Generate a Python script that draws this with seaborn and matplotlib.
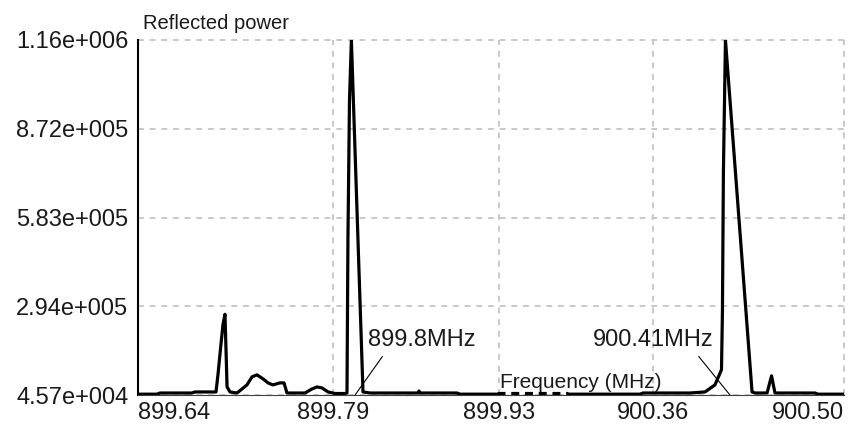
import numpy as np
import matplotlib
matplotlib.use("Agg")
import matplotlib.pyplot as plt
import seaborn as sns

# tick values (the axis is broken, ticks are not evenly spaced in MHz)
freq_ticks = [899.64, 899.79, 899.93, 900.36, 900.50]
freq_tick_labels = ["899.64", "899.79", "899.93", "900.36", "900.50"]
power_ticks = [45700, 294000, 583000, 872000, 1160000]
power_tick_labels = ["4.57e+004", "2.94e+005", "5.83e+005", "8.72e+005", "1.16e+006"]

# lower band sweep
band1_freq = [899.6400, 899.6546, 899.6569, 899.6815, 899.6838, 899.7000, 899.7015,
              899.7038, 899.7054, 899.7069, 899.7077, 899.7085, 899.7108, 899.7162,
              899.7238, 899.7277, 899.7315, 899.7362, 899.7400, 899.7438, 899.7492,
              899.7523, 899.7546, 899.7685, 899.7738, 899.7777, 899.7815, 899.7862,
              899.7917, 899.8001, 899.8018, 899.8026, 899.8039, 899.8055, 899.8153,
              899.8212, 899.8617, 899.8625, 899.8634, 899.8946, 899.8971, 899.9283]
band1_power = [48000, 48000, 51300, 51300, 54200, 54200, 102100,
               186800, 243200, 271500, 172700, 68300, 54200, 51300,
               73900, 96500, 102100, 90800, 79600, 73900, 79600,
               79600, 51300, 51300, 62600, 68300, 65500, 54200,
               49900, 49900, 51300, 514000, 963600, 1160000, 54200,
               51300, 51300, 57000, 51300, 51300, 48000, 48000]

# gap between the two bands (drawn dashed)
gap_freq = [899.9283, 900.1227]
gap_power = [51300, 51300]

# upper band sweep
band2_freq = [900.1227, 900.3237, 900.3321, 900.3871, 900.3981, 900.4054, 900.4102,
              900.4109, 900.4116, 900.4131, 900.4326, 900.4348, 900.4436, 900.4469,
              900.4494, 900.4787, 900.4809, 900.5000]
band2_power = [48000, 48000, 51300, 51300, 54200, 73900, 116250,
               279900, 729100, 1160000, 54200, 51300, 51300, 99300,
               51300, 51300, 48000, 48000]

marker_freq = [899.8086, 900.4164]
marker_labels = ["899.8MHz", "900.41MHz"]

# piecewise scales so the ticks land where the original software put them
x_pos = [0, 195, 361, 515, 706]
y_pos = [0, 1, 2, 3, 4]


def x_fwd(v):
    return np.interp(v, freq_ticks, x_pos)


def x_inv(p):
    return np.interp(p, x_pos, freq_ticks)


def y_fwd(v):
    return np.interp(v, power_ticks, y_pos)


def y_inv(p):
    return np.interp(p, y_pos, power_ticks)


sns.set_style("white")
plt.rcParams["font.family"] = ["Liberation Sans", "DejaVu Sans"]

fig = plt.figure(figsize=(8.5, 4.28), dpi=100)
ax = fig.add_axes([138 / 850, 1 - 395 / 428, 706 / 850, 355 / 428])
ax.set_xscale("function", functions=(x_fwd, x_inv))
ax.set_yscale("function", functions=(y_fwd, y_inv))

sns.lineplot(x=band1_freq, y=band1_power, sort=False, estimator=None,
             color="black", lw=2.3, ax=ax)
sns.lineplot(x=band2_freq, y=band2_power, sort=False, estimator=None,
             color="black", lw=2.3, ax=ax)
ax.plot(gap_freq, gap_power, color="black", lw=2.3, linestyle=(0, (2.5, 1.8)))

ax.set_xlim(freq_ticks[0], freq_ticks[-1])
ax.set_ylim(power_ticks[0], power_ticks[-1])
ax.set_xticks(freq_ticks)
ax.set_xticklabels(freq_tick_labels)
ax.set_yticks(power_ticks)
ax.set_yticklabels(power_tick_labels)
ax.minorticks_off()
ax.tick_params(axis="x", length=0, pad=5, labelsize=17, colors="#1a1a1a")
ax.tick_params(axis="y", length=0, pad=7, labelsize=17, colors="#1a1a1a")
xl = ax.get_xticklabels()
xl[0].set_ha("left")
xl[-1].set_ha("right")

ax.grid(True, color="#c8c8c8", lw=1.4, linestyle=(0, (3, 3)))
ax.set_axisbelow(True)
for gl in ax.get_xgridlines() + ax.get_ygridlines():
    gl.set_clip_on(False)

for side in ["top", "right"]:
    ax.spines[side].set_visible(False)
ax.spines["left"].set_color("black")
ax.spines["left"].set_linewidth(1.5)
ax.spines["bottom"].set_color("#404040")
ax.spines["bottom"].set_linewidth(0.8)
ax.set_xlabel("")
ax.set_ylabel("")

fig.text(143 / 850, 1 - 29 / 428, "Reflected power", fontsize=14.5,
         ha="left", va="baseline", color="#1a1a1a")
ax.annotate("Frequency (MHz)", xy=(freq_ticks[2], 0), xycoords=("data", "axes fraction"),
            xytext=(1, 7), textcoords="offset pixels", fontsize=15,
            ha="left", va="baseline", color="#1a1a1a")

ax.annotate(marker_labels[0], xy=(marker_freq[0], power_ticks[0]),
            xytext=(13, 49), textcoords="offset pixels", fontsize=17,
            ha="left", va="baseline", color="#1a1a1a",
            arrowprops=dict(arrowstyle="-", color="black", lw=0.8,
                            relpos=(0.17, 0), shrinkA=2, shrinkB=0))
ax.annotate(marker_labels[1], xy=(marker_freq[1], power_ticks[0]),
            xytext=(-137, 49), textcoords="offset pixels", fontsize=17,
            ha="left", va="baseline", color="#1a1a1a",
            arrowprops=dict(arrowstyle="-", color="black", lw=0.8,
                            relpos=(0.84, 0), shrinkA=2, shrinkB=0))

fig.savefig("out.png", dpi=100, facecolor="white")
